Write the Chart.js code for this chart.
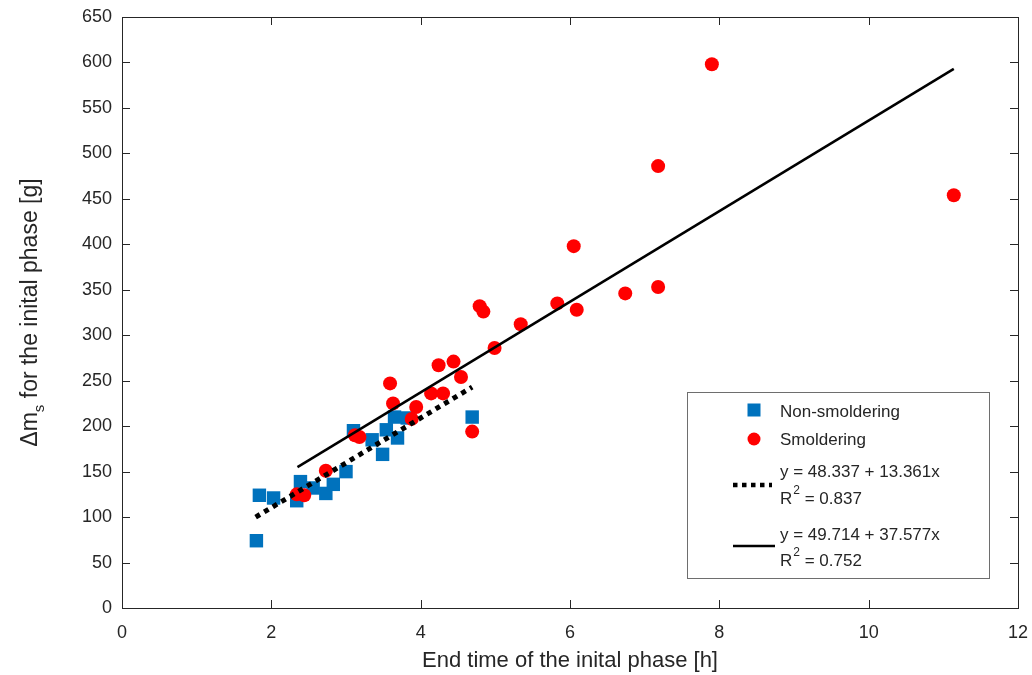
<!DOCTYPE html>
<html>
<head>
<meta charset="utf-8">
<script src="https://cdn.jsdelivr.net/npm/chart.js@4/dist/chart.umd.min.js"></script>
<style>
  html, body { margin: 0; padding: 0; background: #ffffff; }
  #wrap { width: 1032px; height: 675px; position: relative; }
</style>
</head>
<body>
<div id="wrap"><canvas id="c" width="1032" height="675"></canvas></div>
<script>
// Measured samples: end time of the initial phase [h] and mass loss [g]
const nonSmolderingX = [1.80, 1.84, 2.03, 2.34, 2.39, 2.56, 2.73, 2.83, 3.00, 3.10, 3.35, 3.49, 3.54, 3.65, 3.69, 3.82, 4.69];
const nonSmolderingY = [74, 124, 121, 118, 139, 132, 126, 136, 150, 195, 185, 169, 196, 210, 187, 209, 210];

const smolderingX = [2.34, 2.44, 2.73, 3.12, 3.18, 3.59, 3.63, 3.88, 3.94, 4.14, 4.24, 4.30, 4.44, 4.54, 4.69, 4.79, 4.84, 4.99, 5.34, 5.83, 6.05, 6.09, 6.74, 7.18, 7.18, 7.90, 11.14];
const smolderingY = [125, 124, 151, 190, 188, 247, 225, 208, 221, 236, 267, 236, 271, 254, 194, 332, 326, 286, 312, 335, 398, 328, 346, 353, 486, 598, 454];

// Regression lines (end points)
const fitNonX = [1.79, 4.69];
const fitNonY = [100, 243];
const fitSmolX = [2.35, 11.14];
const fitSmolY = [155, 593];

// Axis ticks
const xTicks = [0, 2, 4, 6, 8, 10, 12];
const yTicks = [0, 50, 100, 150, 200, 250, 300, 350, 400, 450, 500, 550, 600, 650];

// Legend texts
const legendNames = ['Non-smoldering', 'Smoldering'];
const fitNonEq = 'y = 48.337 + 13.361x';
const fitNonR2 = '0.837';
const fitSmolEq = 'y = 49.714 + 37.577x';
const fitSmolR2 = '0.752';

const xTitle = 'End time of the inital phase [h]';
const yTitleMain = 'Δm';
const yTitleSub = 's';
const yTitleRest = ' for the inital phase [g]';

const FONT = '"Liberation Sans", Arial, sans-serif';
const AXIS_COLOR = '#262626';
const BLUE = '#0072BD';
const RED = '#FF0000';

const pts = (xs, ys) => xs.map((x, i) => ({ x: x, y: ys[i] }));

// Box, inward ticks, axis titles and legend drawn on the canvas
const framePlugin = {
  id: 'frame',
  afterDraw(chart) {
    const ctx = chart.ctx;
    const a = chart.chartArea;
    const xs = chart.scales.x, ys = chart.scales.y;
    ctx.save();
    ctx.strokeStyle = AXIS_COLOR;
    ctx.lineWidth = 1;
    ctx.strokeRect(Math.round(a.left) + 0.5, Math.round(a.top) + 0.5,
                   Math.round(a.right - a.left), Math.round(a.bottom - a.top));
    const tl = 8;
    ctx.beginPath();
    xTicks.forEach(v => {
      const px = Math.round(xs.getPixelForValue(v)) + 0.5;
      ctx.moveTo(px, a.bottom); ctx.lineTo(px, a.bottom - tl);
      ctx.moveTo(px, a.top); ctx.lineTo(px, a.top + tl);
    });
    yTicks.forEach(v => {
      const py = Math.round(ys.getPixelForValue(v)) + 0.5;
      ctx.moveTo(a.left, py); ctx.lineTo(a.left + tl, py);
      ctx.moveTo(a.right, py); ctx.lineTo(a.right - tl, py);
    });
    ctx.stroke();

    // x axis title
    ctx.fillStyle = AXIS_COLOR;
    ctx.font = '22px ' + FONT;
    ctx.textAlign = 'center';
    ctx.textBaseline = 'middle';
    ctx.fillText(xTitle, (a.left + a.right) / 2, 661);

    // y axis title with subscript
    ctx.save();
    ctx.translate(29, (a.top + a.bottom) / 2);
    ctx.rotate(-Math.PI / 2);
    ctx.textAlign = 'left';
    ctx.textBaseline = 'alphabetic';
    const fMain = '23px ' + FONT, fSub = '15px ' + FONT;
    ctx.font = fMain;
    const w1 = ctx.measureText(yTitleMain).width;
    const w3 = ctx.measureText(yTitleRest).width;
    ctx.font = fSub;
    const w2 = ctx.measureText(yTitleSub).width;
    let x0 = -(w1 + w2 + w3) / 2;
    const base = 8;
    ctx.font = fMain; ctx.fillText(yTitleMain, x0, base); x0 += w1;
    ctx.font = fSub; ctx.fillText(yTitleSub, x0, base + 7); x0 += w2;
    ctx.font = fMain; ctx.fillText(yTitleRest, x0, base);
    ctx.restore();

    // legend
    const L = { l: 687, t: 392, r: 989, b: 578 };
    ctx.fillStyle = '#ffffff';
    ctx.fillRect(L.l, L.t, L.r - L.l, L.b - L.t);
    ctx.strokeStyle = '#6e6e6e';
    ctx.lineWidth = 1;
    ctx.strokeRect(L.l + 0.5, L.t + 0.5, L.r - L.l, L.b - L.t);

    const mx = 754, tx = 780;
    ctx.fillStyle = BLUE;
    ctx.fillRect(mx - 6.5, 410 - 6.5, 13, 13);
    ctx.fillStyle = RED;
    ctx.beginPath(); ctx.arc(mx, 439, 6.5, 0, Math.PI * 2); ctx.fill();

    ctx.strokeStyle = '#000000';
    ctx.lineWidth = 4.5;
    ctx.setLineDash([4.5, 4.5]);
    ctx.beginPath(); ctx.moveTo(733, 485); ctx.lineTo(772, 485); ctx.stroke();
    ctx.setLineDash([]);
    ctx.lineWidth = 2.5;
    ctx.beginPath(); ctx.moveTo(733, 546); ctx.lineTo(775, 546); ctx.stroke();

    ctx.fillStyle = AXIS_COLOR;
    ctx.textAlign = 'left';
    ctx.textBaseline = 'middle';
    ctx.font = '17px ' + FONT;
    ctx.fillText(legendNames[0], tx, 412);
    ctx.fillText(legendNames[1], tx, 440);
    ctx.fillText(fitNonEq, tx, 472);
    ctx.fillText(fitSmolEq, tx, 535);
    const drawR2 = (val, y) => {
      ctx.font = '17px ' + FONT;
      ctx.fillText('R', tx, y);
      const wr = ctx.measureText('R').width;
      ctx.font = '12px ' + FONT;
      ctx.fillText('2', tx + wr + 1, y - 8);
      const ws = ctx.measureText('2').width;
      ctx.font = '17px ' + FONT;
      ctx.fillText(' = ' + val, tx + wr + ws + 1, y);
    };
    drawR2(fitNonR2, 499);
    drawR2(fitSmolR2, 561);
    ctx.restore();
  }
};

new Chart(document.getElementById('c'), {
  type: 'scatter',
  data: {
    datasets: [
      {
        label: legendNames[0],
        data: pts(nonSmolderingX, nonSmolderingY),
        pointStyle: 'rect',
        pointRadius: 9.5,
        pointBackgroundColor: BLUE,
        pointBorderColor: BLUE,
        pointBorderWidth: 0,
        order: 3
      },
      {
        label: legendNames[1],
        data: pts(smolderingX, smolderingY),
        pointStyle: 'circle',
        pointRadius: 7,
        pointBackgroundColor: RED,
        pointBorderColor: RED,
        pointBorderWidth: 0,
        order: 2
      },
      {
        type: 'line',
        label: fitNonEq,
        data: pts(fitNonX, fitNonY),
        showLine: true,
        borderColor: '#000000',
        borderWidth: 5,
        borderDash: [5, 5],
        borderCapStyle: 'butt',
        pointRadius: 0,
        fill: false,
        order: 1
      },
      {
        type: 'line',
        label: fitSmolEq,
        data: pts(fitSmolX, fitSmolY),
        showLine: true,
        borderColor: '#000000',
        borderWidth: 2.5,
        pointRadius: 0,
        fill: false,
        order: 0
      }
    ]
  },
  options: {
    responsive: false,
    animation: false,
    devicePixelRatio: 1,
    layout: { padding: { left: 0, top: 17, right: 14, bottom: 0 } },
    plugins: {
      legend: { display: false },
      tooltip: { enabled: false }
    },
    scales: {
      x: {
        type: 'linear',
        min: 0, max: 12,
        afterBuildTicks(scale) { scale.ticks = xTicks.map(v => ({ value: v })); },
        afterFit(scale) {
          scale.height = 67;
          scale.paddingLeft = 0;
          scale.paddingRight = 0;
        },
        grid: { display: false, drawTicks: false },
        border: { display: false },
        ticks: { color: AXIS_COLOR, font: { family: FONT, size: 18 }, padding: 14, maxRotation: 0 }
      },
      y: {
        type: 'linear',
        min: 0, max: 650,
        afterBuildTicks(scale) { scale.ticks = yTicks.map(v => ({ value: v })); },
        afterFit(scale) {
          scale.width = 122;
          scale.paddingTop = 0;
          scale.paddingBottom = 0;
        },
        grid: { display: false, drawTicks: false },
        border: { display: false },
        ticks: { color: AXIS_COLOR, font: { family: FONT, size: 18 }, padding: 10 }
      }
    }
  },
  plugins: [framePlugin]
});
</script>
</body>
</html>
